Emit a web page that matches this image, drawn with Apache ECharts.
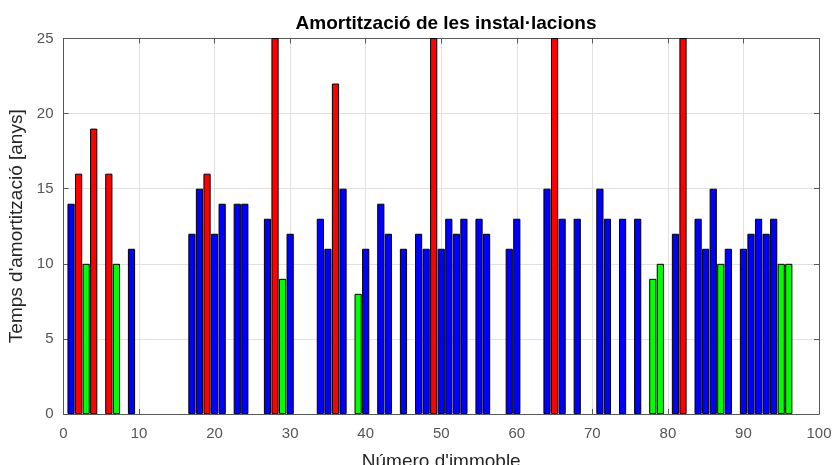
<!DOCTYPE html>
<html>
<head>
<meta charset="utf-8">
<script src="https://cdn.jsdelivr.net/npm/echarts@6/dist/echarts.min.js"></script>
<style>
html,body{margin:0;padding:0;background:#fff;}
#c{width:834px;height:465px;}
</style>
</head>
<body>
<div id="c"></div>
<script>
// Blue buildings
const blueX = [1, 9, 17, 18, 20, 21, 23, 24, 27, 30, 34, 35, 37, 40, 42, 43, 45, 47, 48, 50, 51, 52, 53, 55, 56, 59, 60, 64, 66, 68, 71, 72, 74, 76, 81, 84, 85, 86, 88, 90, 91, 92, 93, 94];
const blueY = [14, 11, 12, 15, 12, 14, 14, 14, 13, 12, 13, 11, 15, 11, 14, 12, 11, 12, 11, 11, 13, 12, 13, 13, 12, 11, 13, 15, 13, 13, 15, 13, 13, 13, 12, 13, 11, 15, 11, 11, 12, 13, 12, 13];
// Red buildings (values above 25 are clipped in the original)
const redX = [2, 4, 6, 19, 28, 36, 49, 65, 82];
const redY = [16, 19, 16, 16, 30, 22, 30, 30, 30];
// Green buildings
const greenX = [3, 7, 29, 39, 78, 79, 87, 95, 96];
const greenY = [10, 10, 9, 8, 9, 10, 10, 10, 10];

const titleText = "Amortització de les instal·lacions";
const xName = "Número d'immoble";
const yName = "Temps d'amortització [anys]";

function pairs(xs, ys) { return xs.map((x, i) => [x, ys[i]]); }

const chart = echarts.init(document.getElementById('c'), null, {renderer: 'canvas'});
const font = 'Liberation Sans, Arial, Helvetica, sans-serif';
const axisCol = '#595959';
const barCommon = {
  type: 'bar',
  barWidth: 7.2,
  barGap: '-100%',
  clip: true
};
chart.setOption({
  animation: false,
  backgroundColor: '#fff',
  title: {
    text: titleText,
    left: 441, top: 9, textAlign: 'center',
    textStyle: {fontFamily: font, fontSize: 19, fontWeight: 'bold', color: '#000'}
  },
  grid: {left: 63.5, right: 15, top: 38.5, bottom: 51, containLabel: false, outerBoundsMode: 'none'},
  xAxis: [{
    type: 'value', min: 0, max: 100, interval: 10,
    name: xName, nameLocation: 'middle', nameGap: 38,
    nameTextStyle: {fontFamily: font, fontSize: 19, color: '#262626'},
    axisLine: {show: true, onZero: false, lineStyle: {color: axisCol, width: 1}},
    axisTick: {show: true, inside: true, length: 5, lineStyle: {color: axisCol}},
    axisLabel: {fontFamily: font, fontSize: 15, color: '#555555', margin: 12},
    splitLine: {show: true, lineStyle: {color: '#e0e0e0', width: 1}}
  }, {
    type: 'value', min: 0, max: 100, interval: 10, position: 'top',
    axisLine: {show: true, onZero: false, lineStyle: {color: axisCol, width: 1}},
    axisTick: {show: true, inside: true, length: 5, lineStyle: {color: axisCol}},
    axisLabel: {show: false}, splitLine: {show: false}
  }],
  yAxis: [{
    type: 'value', min: 0, max: 25, interval: 5,
    name: yName, nameLocation: 'middle', nameGap: 33,
    nameTextStyle: {fontFamily: font, fontSize: 19, color: '#262626'},
    axisLine: {show: true, onZero: false, lineStyle: {color: axisCol, width: 1}},
    axisTick: {show: true, inside: true, length: 5, lineStyle: {color: axisCol}},
    axisLabel: {fontFamily: font, fontSize: 15, color: '#555555', margin: 10},
    splitLine: {show: true, lineStyle: {color: '#e0e0e0', width: 1}}
  }, {
    type: 'value', min: 0, max: 25, interval: 5, position: 'right',
    axisLine: {show: true, onZero: false, lineStyle: {color: axisCol, width: 1}},
    axisTick: {show: true, inside: true, length: 5, lineStyle: {color: axisCol}},
    axisLabel: {show: false}, splitLine: {show: false}
  }],
  series: [
    Object.assign({}, barCommon, {name: 'blue', data: pairs(blueX, blueY), itemStyle: {color: '#0000ff', borderColor: '#000', borderWidth: 1}}),
    Object.assign({}, barCommon, {name: 'red', data: pairs(redX, redY), itemStyle: {color: '#ff0000', borderColor: '#000', borderWidth: 1}}),
    Object.assign({}, barCommon, {name: 'green', data: pairs(greenX, greenY), itemStyle: {color: '#00ff00', borderColor: '#000', borderWidth: 1}})
  ]
});
</script>
</body>
</html>
